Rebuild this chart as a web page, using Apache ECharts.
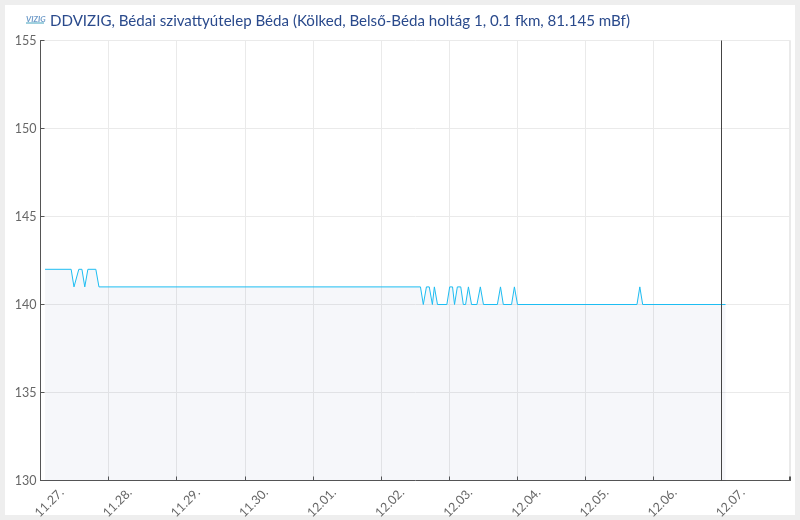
<!DOCTYPE html>
<html>
<head>
<meta charset="utf-8">
<style>html,body{margin:0;padding:0;background:#eee}#chart{width:800px;height:520px}</style>
<script src="https://cdn.jsdelivr.net/npm/echarts@6/dist/echarts.min.js"></script>
</head>
<body>
<div id="chart"></div>
<script>
const chartTitle = 'DDVIZIG, Bédai szivattyútelep Béda (Kölked, Belső-Béda holtág 1, 0.1 fkm, 81.145 mBf)'
const tickLabels = ['11.27.', '11.28.', '11.29.', '11.30.', '12.01.', '12.02.', '12.03.', '12.04.', '12.05.', '12.06.', '12.07.']
// hours counted from the first tick
const hours = [1.6, 10.8, 11.8, 13.5, 14.6, 15.6, 16.7, 19.5, 20.6,
  133.9, 134.9, 136, 137, 138.1, 138.8, 139.9, 143.2, 144.2, 145.2, 145.9, 146.9, 148.1, 149, 149.8, 150.8, 151.9,
  153.8, 155, 156.1, 161, 162.1, 163.1, 166, 167, 168.1, 210.2, 211.2, 212.2, 241.4]
const levels = [142, 142, 141, 142, 142, 141, 142, 142, 141,
  141, 140, 141, 141, 140, 141, 140, 140, 141, 141, 140, 141, 141, 140, 140, 141, 140,
  140, 141, 140, 140, 141, 140, 140, 141, 140, 140, 141, 140, 140]
const nowHour = 240

const chart = echarts.init(document.getElementById('chart'))
chart.setOption({
  animation: false,
  backgroundColor: '#eeeeee',
  textStyle: { fontFamily: 'Lato' },
  graphic: [
    { type: 'rect', z: -10, shape: { x: 5, y: 5, width: 790, height: 510 }, style: { fill: '#fff' } },
    { type: 'text', x: 26, y: 15, style: { text: 'VIZIG', fill: '#6f9bc9', font: 'italic bold 8px Lato' } },
    { type: 'rect', shape: { x: 26, y: 22, width: 18, height: 2 }, style: { fill: '#9fd0de' } }
  ],
  title: {
    text: chartTitle,
    left: 45,
    top: 9,
    textStyle: { color: '#2a4a8c', fontSize: 15.1, fontWeight: 'normal', fontFamily: 'Lato' }
  },
  grid: { left: 40.5, right: 9.5, top: 40.5, bottom: 39.5, outerBoundsMode: 'none' },
  xAxis: {
    type: 'value',
    min: 0,
    max: 264.3,
    interval: 24,
    axisLine: { lineStyle: { color: '#555', width: 1 } },
    axisTick: { inside: true, length: 4, lineStyle: { color: '#555' } },
    splitLine: { show: true, lineStyle: { color: '#eaeaea' } },
    axisLabel: {
      rotate: 45,
      align: 'center',
      verticalAlign: 'middle',
      margin: 31,
      padding: [0, 0, 0, 25],
      color: '#666',
      fontSize: 12.5,
      formatter: (v) => tickLabels[v / 24] || ''
    }
  },
  yAxis: {
    type: 'value',
    min: 130,
    max: 155,
    interval: 5,
    axisLine: { show: true, lineStyle: { color: '#555', width: 1 } },
    axisTick: { show: true, inside: true, length: 4, lineStyle: { color: '#555' } },
    splitLine: { show: true, lineStyle: { color: '#eaeaea' } },
    axisLabel: { margin: 4, color: '#666', fontSize: 12.5 }
  },
  series: [{
    type: 'line',
    data: hours.map((h, i) => [h, levels[i]]),
    showSymbol: false,
    lineStyle: { color: '#1dbdf2', width: 1 },
    itemStyle: { color: '#1dbdf2' },
    areaStyle: { color: 'rgba(0,20,110,0.05)', origin: 'start' },
    markLine: {
      silent: true,
      symbol: 'none',
      label: { show: false },
      lineStyle: { color: '#444', type: 'solid', width: 1 },
      data: [{ xAxis: nowHour }]
    }
  }]
})
</script>
</body>
</html>
